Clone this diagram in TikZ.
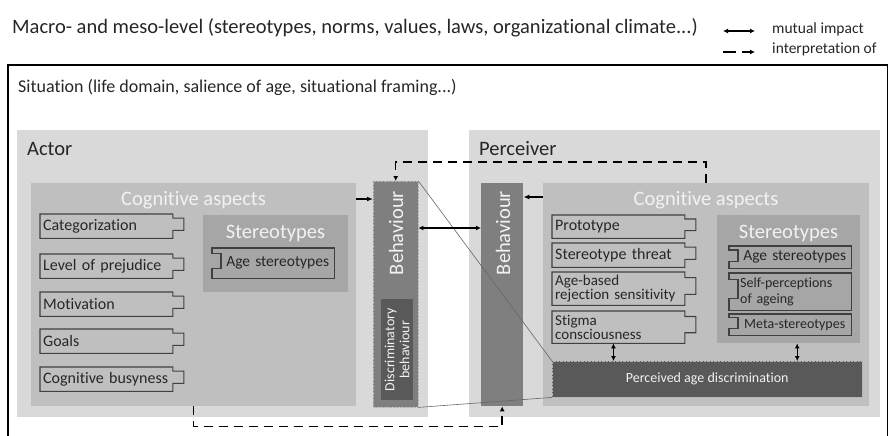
\documentclass[tikz,border=0pt]{standalone}
\usepackage{fontspec}
\setmainfont[Ligatures={NoCommon}]{Carlito}
\usetikzlibrary{arrows.meta,calc}

\definecolor{shadeA}{HTML}{D9D9D9}
\definecolor{shadeB}{HTML}{BFBFBF}
\definecolor{shadeC}{HTML}{A6A6A6}
\definecolor{shadeD}{HTML}{7F7F7F}
\definecolor{shadeE}{HTML}{595959}
\definecolor{ink}{HTML}{262626}
\definecolor{rim}{HTML}{404040}

\tikzset{
  region/.style={rectangle, inner sep=0pt, anchor=north west},
  bigtext/.style={inner sep=0pt, text=ink, font=\fontsize{20.5}{22}\selectfont},
  whitetext/.style={inner sep=0pt, text=white!95!black, font=\fontsize{20.5}{22}\selectfont},
  smallwhite/.style={inner sep=0pt, text=white!95!black, font=\fontsize{14}{15}\selectfont},
  legendtext/.style={inner sep=0pt, text=ink, font=\fontsize{15.5}{16}\selectfont},
  piece/.style={rectangle, anchor=north west, inner xsep=3pt, inner ysep=0pt,
    minimum height=#1, text width=126.5pt, align=left, text=ink,
    font=\fontsize{16}{15}\selectfont},
  piece/.default=24pt,
  socket/.style={rectangle, anchor=north west, inner xsep=2pt, inner ysep=0pt,
    minimum height=#1, text width=109pt, align=center, text=ink,
    font=\fontsize{15.5}{16}\selectfont},
  socket/.default=22pt,
  rimline/.style={draw=rim, line width=1.1pt},
  leads/.style={line width=1.4pt, -{Latex[length=6pt,width=5pt]}},
  mutual/.style={line width=1.4pt, {Latex[length=5pt,width=5pt]}-{Latex[length=5pt,width=5pt]}},
  interp/.style={line width=1.5pt, dash pattern=on 9pt off 6pt, -{Latex[length=5pt,width=5pt]}},
  zoomline/.style={draw=black!60, line width=0.6pt},
}

\begin{document}
\begin{tikzpicture}[x=1pt, y=-1pt]
    \useasboundingbox (0,0) rectangle (889,436);
    \clip (0,0) rectangle (889,436);

    \node[bigtext, anchor=west] (macro) at (12,28) {Macro- and meso-level (stereotypes, norms, values, laws, organizational climate...)};
    \node[legendtext, anchor=west] (mutuallab) at (772,29) {mutual impact};
    \node[legendtext, anchor=west] (interplab) at (772,49) {interpretation of};
    \draw[mutual] ([xshift=-49pt, yshift=-2pt]mutuallab.west) -- ([xshift=-17pt, yshift=-2pt]mutuallab.west);
    \draw[interp, dash pattern=on 13pt off 6pt] ([xshift=-49pt, yshift=-3pt]interplab.west) -- ([xshift=-17pt, yshift=-3pt]interplab.west);

    \node[region, draw=black, line width=1.8pt, minimum width=879.5pt, minimum height=420pt] (situation) at (7,64.5) {};
    \node[bigtext, anchor=west, font=\fontsize{18}{19}\selectfont] (situationlab) at (18,87) {Situation (life domain, salience of age, situational framing...)};

    \node[region, fill=shadeA, minimum width=411pt, minimum height=287pt] (actor) at (17,130) {};
    \node[region, fill=shadeA, minimum width=411pt, minimum height=287pt] (perceiver) at (469,130) {};
    \node[bigtext, anchor=west] (actorlab) at (27,149) {Actor};
    \node[bigtext, anchor=west] (perceiverlab) at (479,149) {Perceiver};

    \node[region, fill=shadeB, minimum width=325pt, minimum height=223pt] (acog) at (31,183) {};
    \node[region, fill=shadeB, minimum width=326pt, minimum height=223pt] (pcog) at (543,183) {};
    \node[region, fill=shadeC, minimum width=145pt, minimum height=77pt] (aster) at (203,215) {};
    \node[region, fill=shadeC, minimum width=143pt, minimum height=128pt] (pster) at (717,215) {};
    \node[region, fill=shadeD, draw=gray!60, densely dotted, minimum width=45pt, minimum height=226pt] (abeh) at (373,181) {};
    \node[region, fill=shadeD, minimum width=42pt, minimum height=223pt] (pbeh) at (481,183) {};
    \node[region, fill=shadeE, minimum width=32pt, minimum height=101pt] (disc) at (381,299) {};
    \node[region, fill=shadeE, draw=gray!60, densely dotted, minimum width=310pt, minimum height=36pt] (pad) at (552,361) {};

    \node[whitetext] (acoglab) at (193.5,200) {Cognitive aspects};
    \node[whitetext] (pcoglab) at (706,200) {Cognitive aspects};
    \node[whitetext] (asterlab) at (275.5,233) {Stereotypes};
    \node[whitetext] (psterlab) at (788.5,233) {Stereotypes};
    \node[whitetext, rotate=90] (abehlab) at (396,233) {Behaviour};
    \node[whitetext, rotate=90] (pbehlab) at (503,233) {Behaviour};
    \node[smallwhite, rotate=90, align=center] (disclab) at (disc.center) {Discriminatory\\behaviour};
    \node[smallwhite] (padlab) at (pad.center) {Perceived age discrimination};

    \foreach \n/\y/\t in {cat/214/Categorization, prej/254/Level of prejudice, mot/292/Motivation, goal/329/Goals, busy/367/Cognitive busyness}
        \node[piece] (\n) at (40,\y) {\t};
    \foreach \n/\y/\h/\t in {proto/215/23pt/Prototype, threat/243/24pt/Stereotype threat}
        \node[piece=\h] (\n) at (552,\y) {\t};
    \foreach \n/\y/\h/\t in {rej/272/33pt/{Age-based\\rejection sensitivity}, stig/311/32pt/{Stigma\\consciousness}}
        \node[piece=\h, font=\fontsize{15}{14}\selectfont] (\n) at (552,\y) {\t};
    \foreach \n in {cat,prej,mot,goal,busy,proto,threat,rej,stig}
        \draw[rimline] (\n.north west) -- (\n.north east) -- ($(\n.north east)!0.17!(\n.south east)$) -- ++(11,0)
            |- ($(\n.north east)!0.67!(\n.south east)$) -- (\n.south east) -- (\n.south west) -- cycle;

    \node[socket=30pt] (agest) at (221,248) {Age stereotypes};
    \node[socket] (pagest) at (738,246) {Age stereotypes};
    \node[socket=37pt, align=left, font=\fontsize{14}{16}\selectfont] (selfp) at (738,273) {Self-perceptions\\of ageing};
    \node[socket=21pt, font=\fontsize{14}{15}\selectfont] (meta) at (738,314) {Meta-stereotypes};
    \foreach \n in {agest,pagest,selfp,meta}
        \draw[rimline] (\n.north east) -- ([xshift=-9pt]\n.north west) |- ($(\n.north west)!0.18!(\n.south west)$)
            -- ($(\n.north west)!0.68!(\n.south west)$) -| ([xshift=-9pt]\n.south west) -- (\n.south east) -- cycle;

    \draw[zoomline] (abeh.north east) -- (pad.north west);
    \draw[zoomline] (abeh.south east) -- (pad.south west);

    \draw[leads] ([yshift=-16pt]acog.north east) -- ([yshift=-16pt]acog.north east -| abeh.west);
    \draw[leads] ([yshift=-14pt]pcog.north west) -- ([yshift=-14pt]pcog.north west -| pbeh.east);
    \draw[mutual] ([yshift=-47pt]abeh.north east) -- ([yshift=-47pt]abeh.north east -| pbeh.west);
    \draw[mutual] ([xshift=-5pt]stig.south) -- ([xshift=-5pt]stig.south |- pad.north);
    \draw[mutual] ([xshift=8.5pt]pster.south) -- ([xshift=8.5pt]pster.south |- pad.north);
    \draw[interp] (pcog.north) -- ++(0,-21) -| (abeh.north);
    \draw[interp] (acog.south) -- ++(0,20) -| (pbeh.south);
\end{tikzpicture}
\end{document}
